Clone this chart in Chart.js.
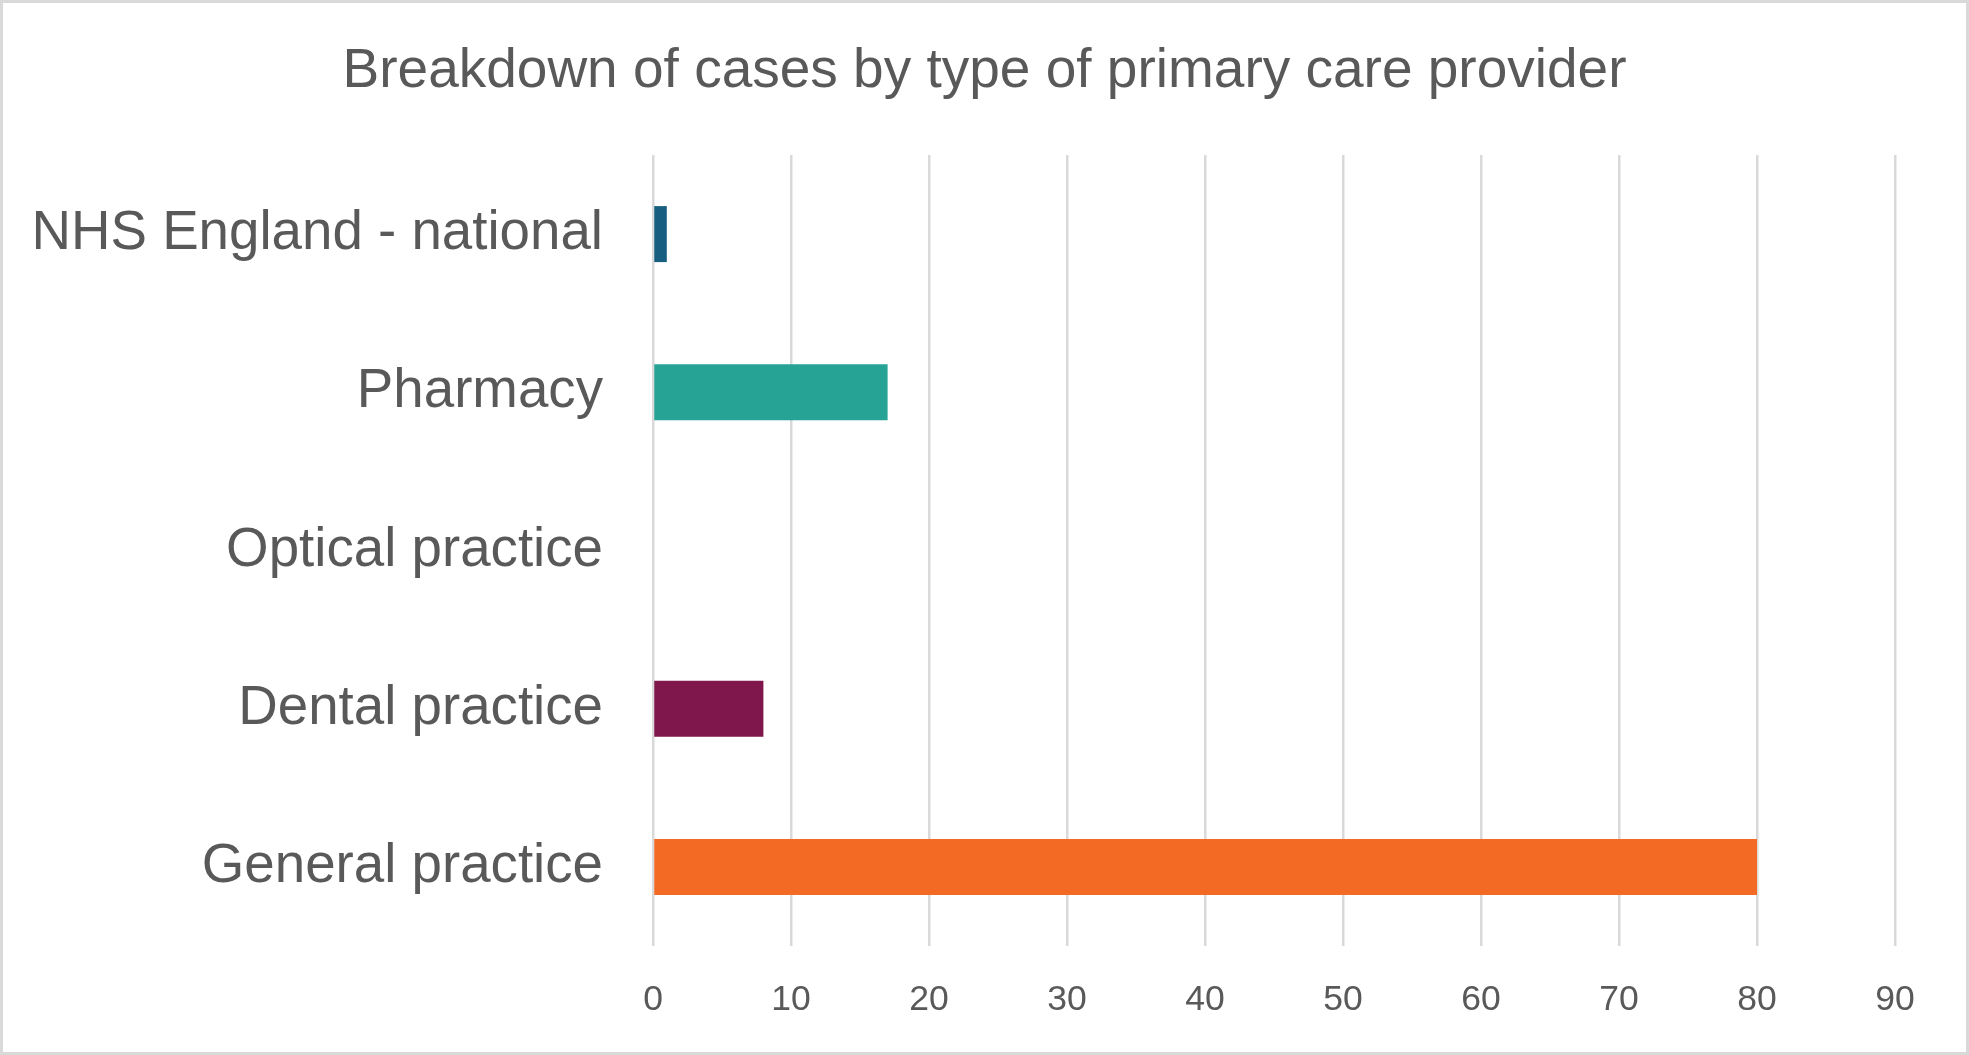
<!DOCTYPE html>
<html>
<head>
<meta charset="utf-8">
<script src="https://cdn.jsdelivr.net/npm/chart.js@4"></script>
<style>
  html, body { margin: 0; padding: 0; background: #fff; }
  #wrap {
    width: 1969px; height: 1055px; box-sizing: border-box;
    border: 3px solid #d9d9d9; background: #fff;
  }
  canvas { display: block; }
</style>
</head>
<body>
<div id="wrap"><canvas id="providerChart" width="1963" height="1049"></canvas></div>
<script>
const providers = ['NHS England - national', 'Pharmacy', 'Optical practice', 'Dental practice', 'General practice'];
const caseCounts = [1, 17, 0, 8, 80];
const barColours = ['#175e80', '#27a396', '#a0a0a0', '#7f164c', '#f36a24'];
const xTicks = [0, 10, 20, 30, 40, 50, 60, 70, 80, 90];

const textGrey = '#595959';
const fontFamily = '"Liberation Sans", Arial, sans-serif';

const ctx = document.getElementById('providerChart').getContext('2d');
const providerChart = new Chart(ctx, {
    type: 'bar',
    data: {
        labels: providers,
        datasets: [{
            label: 'Cases',
            data: caseCounts,
            backgroundColor: barColours,
            borderWidth: 0,
            barPercentage: 0.354,
            categoryPercentage: 1
        }]
    },
    options: {
        indexAxis: 'y',
        responsive: false,
        animation: false,
        layout: { padding: 0 },
        plugins: {
            legend: { display: false },
            tooltip: { enabled: false },
            title: {
                display: true,
                text: 'Breakdown of cases by type of primary care provider',
                color: textGrey,
                font: { family: fontFamily, size: 55, weight: 'normal', lineHeight: 1.2 },
                padding: { top: 36, bottom: 50 }
            }
        },
        scales: {
            x: {
                min: 0,
                max: 90,
                afterBuildTicks: (scale) => { scale.ticks = xTicks.map(v => ({ value: v })); },
                afterFit: (scale) => { scale.height = 106; },
                grid: { color: '#d9d9d9', lineWidth: 2.5, drawTicks: false },
                border: { display: false },
                ticks: {
                    color: textGrey,
                    padding: 33,
                    maxRotation: 0,
                    font: { family: fontFamily, size: 35.5 }
                }
            },
            y: {
                afterFit: (scale) => { scale.width = 650; },
                grid: { display: false, drawTicks: false },
                border: { display: false },
                ticks: {
                    color: textGrey,
                    padding: 50,
                    font: { family: fontFamily, size: 54.7 }
                }
            },
            // empty right-hand gutter so the title stays centred on the whole canvas
            gutter: {
                type: 'category',
                axis: 'y',
                position: 'right',
                labels: providers,
                afterFit: (scale) => { scale.width = 71; },
                grid: { display: false, drawTicks: false },
                border: { display: false },
                ticks: { display: false }
            }
        }
    }
});
</script>
</body>
</html>
